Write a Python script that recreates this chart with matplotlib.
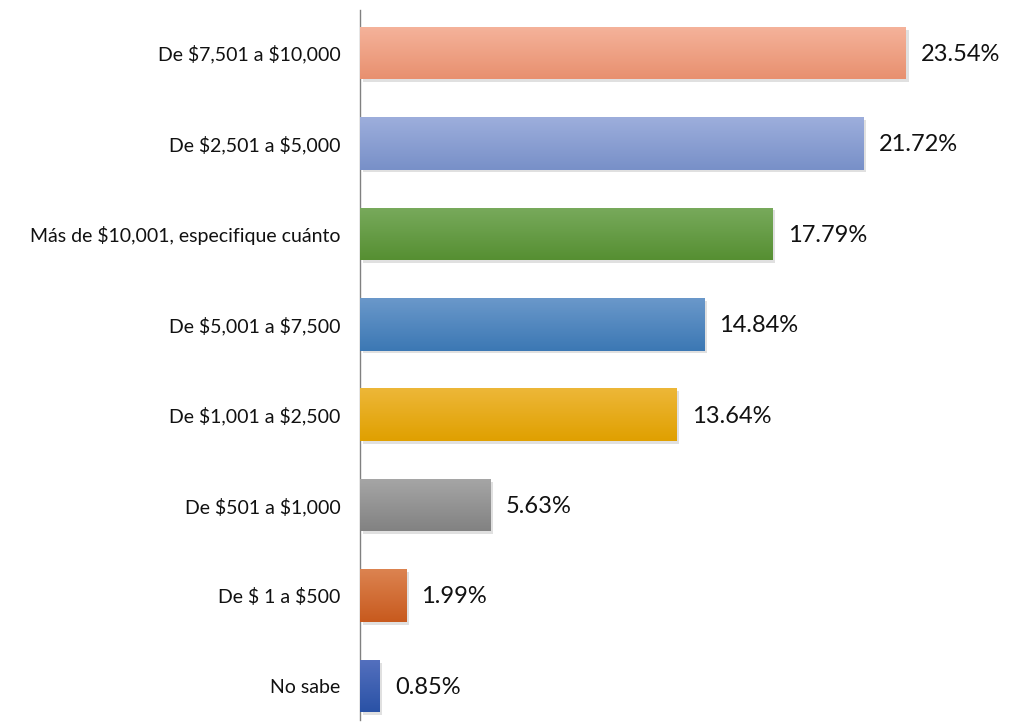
import matplotlib
matplotlib.use("Agg")
import matplotlib.pyplot as plt
import numpy as np
from matplotlib.colors import LinearSegmentedColormap
import matplotlib.patheffects as pe

categories = ["No sabe", "De $ 1 a $500", "De $501 a $1,000", "De $1,001 a $2,500",
              "De $5,001 a $7,500", "Más de $10,001, especifique cuánto",
              "De $2,501 a $5,000", "De $7,501 a $10,000"]
values = [0.85, 1.99, 5.63, 13.64, 14.84, 17.79, 21.72, 23.54]
top_colors = ["#5470BE", "#DC8350", "#A6A6A6", "#EDB738", "#6A98CA", "#78AA5C", "#9DAEDC", "#F5B39B"]
bottom_colors = ["#2A52A6", "#C85A1E", "#828282", "#E0A000", "#3C78B4", "#568F32", "#7890C8", "#E8906F"]

plt.rcParams['font.family'] = ['Lato', 'DejaVu Sans']
plt.rcParams['text.parse_math'] = False
fig = plt.figure(figsize=(10.23, 7.27), dpi=100)
fig.patch.set_facecolor("white")
ax = fig.add_axes([360/1023, 1-720/727, 640/1023, 710/727])

pos = np.arange(len(values))
bars = ax.barh(pos, values, height=0.58, color=bottom_colors, zorder=2,
               path_effects=[pe.SimplePatchShadow(offset=(2, -2), shadow_rgbFace="#999999", alpha=0.3), pe.Normal()])
grad = np.linspace(0, 1, 64).reshape(-1, 1)
for b, ct, cb in zip(bars, top_colors, bottom_colors):
    cmap = LinearSegmentedColormap.from_list("g", [ct, cb])
    x0, y0 = b.get_x(), b.get_y()
    w, h = b.get_width(), b.get_height()
    im = ax.imshow(grad, cmap=cmap, aspect="auto", extent=(x0, x0 + w, y0, y0 + h),
                   origin="upper", zorder=3, interpolation="bilinear")
    im.set_clip_path(b)

for p, v in zip(pos, values):
    ax.annotate(f"{v:.2f}%", (v, p), xytext=(11, -1), textcoords="offset points",
                va="center", ha="left", fontsize=17, color="#111111", zorder=4)

ax.set_xlim(0, 640/23.19)
ax.set_ylim(-34/90.5, 7 + 43/90.5)
ax.set_yticks(pos)
ax.set_yticklabels(categories, fontsize=14, color="#111111")
ax.tick_params(axis="y", length=0, pad=14)
ax.set_xticks([])
for s in ["top", "right", "bottom"]:
    ax.spines[s].set_visible(False)
ax.spines["left"].set_color("#808080")
ax.spines["left"].set_linewidth(1)
ax.set_facecolor("none")

fig.savefig("out.png", dpi=100, facecolor="white")
